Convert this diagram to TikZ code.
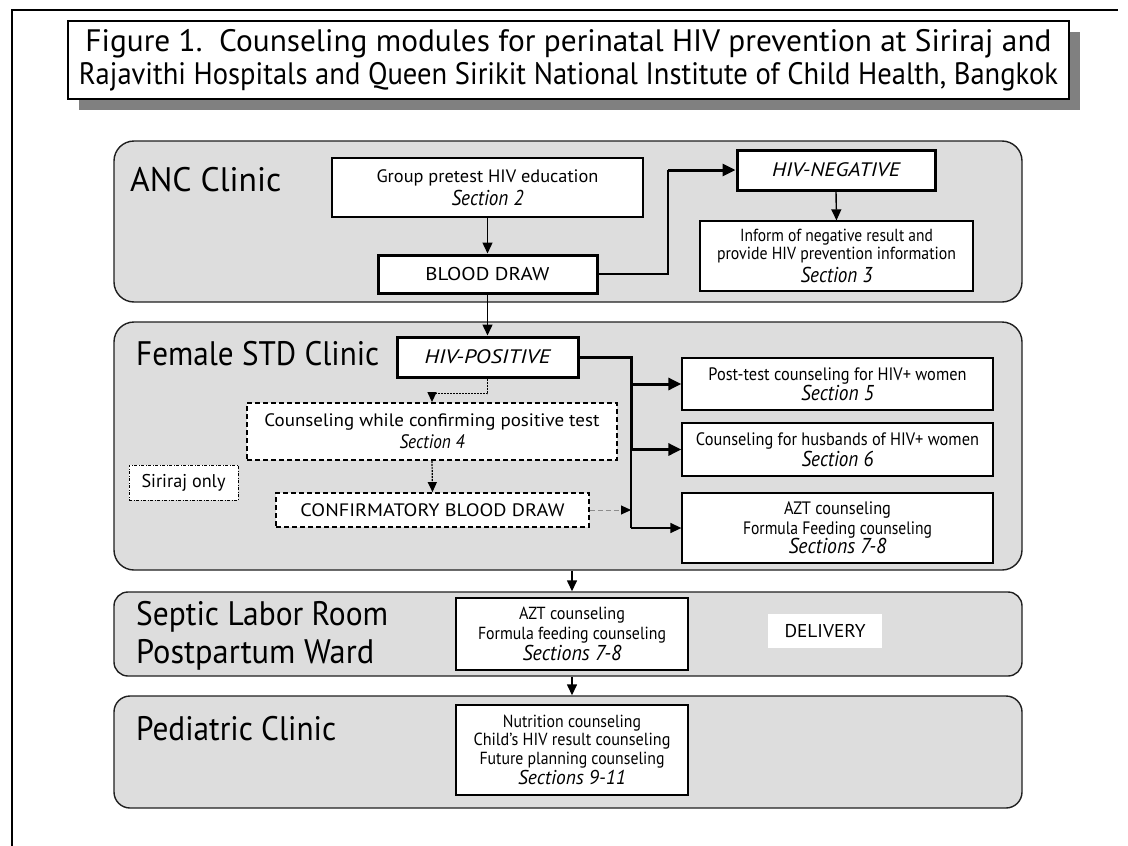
\documentclass[tikz,border=0pt]{standalone}
\usepackage{fontspec}
\setmainfont{PT Sans}
\usetikzlibrary{arrows.meta,shadows}
\definecolor{panelgray}{gray}{0.865}
\definecolor{shadowgray}{gray}{0.5}
\newcommand\tw[2]{\resizebox{#1pt}{\height}{#2}}
\newcommand\secln[2]{{\fontsize{21.5}{20}\selectfont\itshape\tw{#1}{#2}}}
\begin{document}
\begin{tikzpicture}[x=1pt,y=-1pt,
  panel/.style={draw=black!88, fill=panelgray, line width=1.4pt, rounded corners=20pt, minimum width=908pt, inner sep=0pt},
  box/.style={draw=black, fill=white, line width=1.3pt, align=center, inner sep=0pt},
  boldbox/.style={box, line width=3pt},
  dashbox/.style={box, line width=1.8pt, dash pattern=on 5pt off 3pt},
  dotdashbox/.style={box, line width=0.9pt, dash pattern=on 3pt off 1.5pt on 1pt off 1.5pt},
  lbl/.style={anchor=west, inner sep=0pt, align=left, font=\fontsize{34}{38}\selectfont},
  arr/.style={line width=1.4pt, -{Triangle[length=11pt,width=10pt]}},
  thickarr/.style={line width=3pt, -{Triangle[length=13pt,width=12pt]}},
  dotarr/.style={line width=1.2pt, dash pattern=on 2pt off 1pt, -{Triangle[length=10pt,width=9pt]}},
  grayarr/.style={draw=black!45, line width=1pt, dash pattern=on 5pt off 3pt, -{Triangle[length=10pt,width=9pt,color=black]}}
]
\useasboundingbox (0,0) rectangle (1128,846);
\fill[white] (0,0) rectangle (1128,846);
% outer frame
\draw[line width=2.5pt] (12,846) -- (12,10) -- (1118,10);

% title
\node[draw=black, fill=white, line width=1.3pt, minimum width=1001pt, minimum height=78pt, inner sep=0pt, align=center,
  font=\fontsize{31}{33}\selectfont,
  drop shadow={shadow xshift=11pt, shadow yshift=-11pt, fill=shadowgray, opacity=1}]
  (title) at (568.5,60) {\tw{966}{Figure 1.\ \ Counseling modules for perinatal HIV prevention at Siriraj and}\\\tw{979}{Rajavithi Hospitals and Queen Sirikit National Institute of Child Health, Bangkok}};

% panels
\node[panel, minimum height=161pt] (anc) at (568,221.5) {};
\node[panel, minimum height=248pt] (fem) at (568,446) {};
\node[panel, minimum height=84pt, rounded corners=14pt] (sep) at (568,634) {};
\node[panel, minimum height=112pt, rounded corners=16pt] (peds) at (568,752) {};

% panel labels
\node[lbl] (ancl) at (130,180) {\tw{151}{ANC Clinic}};
\node[lbl] (feml) at (136,354) {\tw{243}{Female STD Clinic}};
\node[lbl] (sepl) at (136,636) {\tw{252}{Septic Labor Room}\\\tw{238}{Postpartum Ward}};
\node[lbl] (pedl) at (136,729) {\tw{200}{Pediatric Clinic}};

% ANC clinic
\node[box, minimum width=311pt, minimum height=59pt, font=\fontsize{18}{23}\selectfont] (group) at (487.5,187.5)
  {\tw{222}{Group pretest HIV education}\\\secln{72}{Section 2}};
\node[boldbox, minimum width=219pt, minimum height=38pt, font=\fontsize{18.5}{20}\selectfont] (bd) at (487.5,274) {\tw{124}{BLOOD DRAW}};
\node[boldbox, minimum width=198pt, minimum height=40pt, font=\fontsize{19.5}{20}\selectfont\itshape] (hivneg) at (836,170) {\tw{128}{HIV-NEGATIVE}};
\node[box, minimum width=273pt, minimum height=70pt, font=\fontsize{17.5}{18}\selectfont] (inform) at (836.5,256)
  {\tw{193}{Inform of negative result and}\\\tw{239}{provide HIV prevention information}\\[3pt]\secln{72}{Section 3}};

\coordinate (ja) at (668,274);
\draw[arr] (group.south) -- (bd.north);
\draw[line width=1.6pt] (bd.east) -- (ja) -- (ja |- hivneg.west);
\draw[thickarr] (ja |- hivneg.west) -- (hivneg.west);
\draw[arr] (hivneg.south) -- (inform.north);

% Female STD clinic
\node[boldbox, minimum width=181pt, minimum height=40pt, font=\fontsize{19.5}{20}\selectfont\itshape] (hivpos) at (487.5,357) {\tw{126}{HIV-POSITIVE}};
\node[dashbox, minimum width=370pt, minimum height=57pt, font=\fontsize{18}{22}\selectfont] (counsel) at (432,431.5)
  {\tw{335}{Counseling while confirming positive test}\\{\fontsize{19.5}{20}\selectfont\itshape\tw{65}{Section 4}}};
\node[dashbox, minimum width=313pt, minimum height=34pt, font=\fontsize{18}{20}\selectfont] (confirm) at (432.5,510) {\tw{264}{CONFIRMATORY BLOOD DRAW}};
\node[dotdashbox, minimum width=109pt, minimum height=35pt, font=\fontsize{18.5}{20}\selectfont] (siriraj) at (183.5,482.5) {\tw{84}{Siriraj only}};

\node[box, minimum width=311pt, minimum height=52pt, font=\fontsize{18}{20}\selectfont] (post) at (837.5,384)
  {\tw{258}{Post-test counseling for HIV+ women}\\\secln{73}{Section 5}};
\node[box, minimum width=311pt, minimum height=53pt, font=\fontsize{18}{21}\selectfont] (husb) at (837.5,449.5)
  {\tw{283}{Counseling for husbands of HIV+ women}\\\secln{72}{Section 6}};
\node[box, minimum width=311pt, minimum height=70pt, font=\fontsize{18}{19.5}\selectfont] (aztf) at (837.5,528)
  {\tw{107}{AZT counseling}\\\tw{189}{Formula Feeding counseling}\\\secln{98}{Sections 7-8}};

\draw[arr] (bd.south) -- (hivpos.north);
\coordinate (jf) at (631,357);
\draw[line width=3pt] (hivpos.east) -- (jf) -- (jf |- husb.west);
\draw[thickarr] (jf |- post.west) -- (post.west);
\draw[thickarr] (jf |- husb.west) -- (husb.west);
\draw[line width=1.5pt] (jf |- husb.west) -- (jf |- aztf.west);
\draw[arr] (jf |- aztf.west) -- (aztf.west);
\draw[dotarr] (hivpos.south) -- ++(0,15) -| (counsel.north);
\draw[dotarr] (counsel.south) -- (confirm.north);
\draw[grayarr] (confirm.east) -- (jf |- confirm.east);

% Septic labor room / postpartum ward
\node[box, minimum width=232pt, minimum height=72pt, font=\fontsize{17.5}{20}\selectfont] (azts) at (572,634)
  {\tw{106}{AZT counseling}\\\tw{188}{Formula feeding counseling}\\[1pt]\secln{99}{Sections 7-8}};
\node[fill=white, minimum width=114pt, minimum height=34pt, inner sep=0pt, font=\fontsize{18.5}{20}\selectfont] (deliv) at (825,631) {\tw{81}{DELIVERY}};

% Pediatric clinic
\node[box, minimum width=232pt, minimum height=90pt, font=\fontsize{17.5}{18.5}\selectfont] (pedbox) at (572,750)
  {\tw{138}{Nutrition counseling}\\\tw{197}{Child's HIV result counseling}\\\tw{185}{Future planning counseling}\\[2pt]{\fontsize{20}{20}\selectfont\itshape\tw{108}{Sections 9-11}}};

\draw[arr] (fem.south -| azts.north) -- (sep.north -| azts.north);
\draw[arr] (sep.south -| pedbox.north) -- (peds.north -| pedbox.north);
\end{tikzpicture}
\end{document}
